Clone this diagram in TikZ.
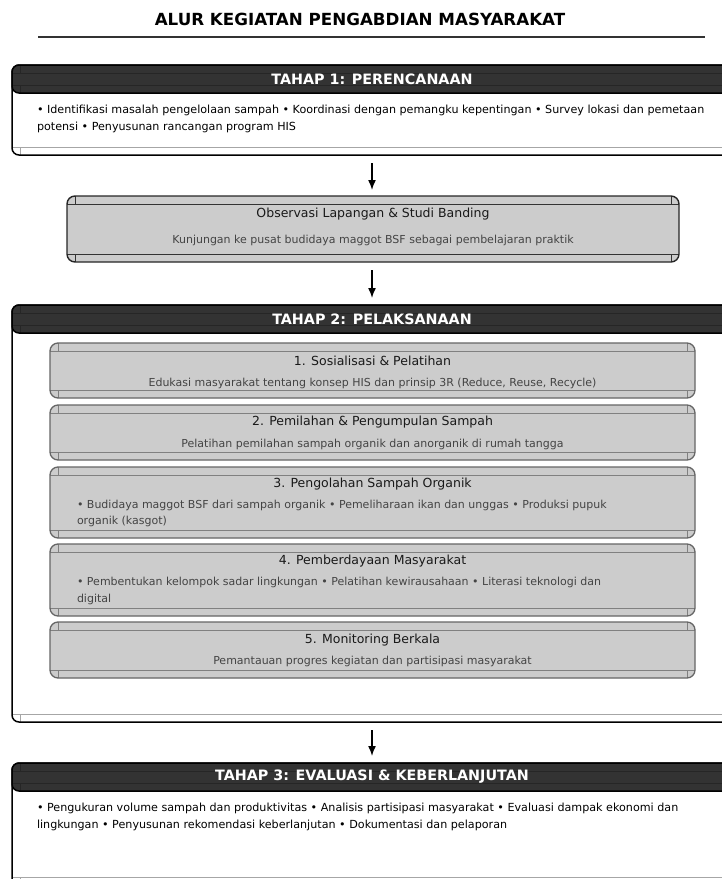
\documentclass[tikz,border=0pt]{standalone}
\usepackage{fontspec}
\setmainfont{DejaVu Sans}
\usetikzlibrary{calc,arrows.meta}
\definecolor{headdark}{HTML}{333333}
\definecolor{boxgray}{HTML}{CCCCCC}
\definecolor{textgray}{HTML}{444444}

\begin{document}
\begin{tikzpicture}[x=1pt,y=-1pt,>={Latex[length=10pt,width=8pt]}]
    \tikzset{seams/.style={path picture={
        \draw[#1] ($(path picture bounding box.north west)+(0,8)$) -- ($(path picture bounding box.north east)+(0,8)$);
        \draw[#1] ($(path picture bounding box.south west)+(0,-8)$) -- ($(path picture bounding box.south east)+(0,-8)$);
        \draw[#1] ($(path picture bounding box.north west)+(8,0)$) -- +(0,8);
        \draw[#1] ($(path picture bounding box.north east)+(-8,0)$) -- +(0,8);
        \draw[#1] ($(path picture bounding box.south west)+(8,0)$) -- +(0,-8);
        \draw[#1] ($(path picture bounding box.south east)+(-8,0)$) -- +(0,-8);
    }}}
    \tikzstyle{every node}=[inner sep=0pt,outer sep=0pt];
    \tikzstyle{stagebody}=[draw=black,line width=1.5pt,fill=white,rounded corners=7pt,minimum width=720pt,seams={gray!70,line width=1pt}];
    \tikzstyle{stagehead}=[draw=black,line width=1.5pt,fill=headdark,rounded corners=7pt,minimum width=720pt,minimum height=28pt,
        text=white,font=\fontsize{14.3}{16}\selectfont\bfseries,seams={black!85,line width=1pt}];
    \tikzstyle{stagetext}=[anchor=west,align=left,font=\fontsize{11.15}{17}\selectfont];
    \tikzstyle{obsbox}=[draw=black!85,line width=1.4pt,fill=boxgray,rounded corners=8pt,seams={black!80,line width=1pt}];
    \tikzstyle{stepbox}=[draw=black!60,line width=1.3pt,fill=boxgray,rounded corners=8pt,minimum width=645pt,seams={black!50,line width=1pt}];
    \tikzstyle{steptitle}=[font=\fontsize{12.5}{15}\selectfont,text=black!90];
    \tikzstyle{stepdesc}=[font=\fontsize{11}{16.5}\selectfont,text=textgray,align=left];
    \tikzstyle{flow}=[->,line width=1.5pt];
    \useasboundingbox (0,0) rectangle (722,879);
    \clip (0,0) rectangle (722,879);

    % judul
    \node at (360, 19) (title) [font=\fontsize{16.7}{19}\selectfont\bfseries] {ALUR KEGIATAN PENGABDIAN MASYARAKAT};
    \coordinate (ruleL) at (38, 37);
    \coordinate (ruleR) at (705, 37);
    \draw[headdark,line width=2pt] (ruleL) -- (ruleR);

    % tahap 1
    \node at (372, 110) (t1) [stagebody,minimum height=90pt] {};
    \node at (372, 79) (t1h) [stagehead] {TAHAP 1: PERENCANAAN};
    \node at (37, 118.5) (t1d) [stagetext] {• Identifikasi masalah pengelolaan sampah • Koordinasi dengan pemangku kepentingan • Survey lokasi dan pemetaan\\potensi • Penyusunan rancangan program HIS};

    % observasi
    \node at (373, 229) (obs) [obsbox,minimum width=612pt,minimum height=66pt] {};
    \node at (373, 214) (obst) [steptitle] {Observasi Lapangan \& Studi Banding};
    \node at (373, 240) (obsd) [stepdesc] {Kunjungan ke pusat budidaya maggot BSF sebagai pembelajaran praktik};

    % tahap 2
    \node at (372, 513.5) (t2) [stagebody,minimum height=417pt] {};
    \node at (372, 319) (t2h) [stagehead] {TAHAP 2: PELAKSANAAN};

    \node at (372.5, 370.5) (s1) [stepbox,minimum height=55pt] {};
    \node at (372.5, 361) (s1t) [steptitle] {1. Sosialisasi \& Pelatihan};
    \node at (372.5, 383) (s1d) [stepdesc] {Edukasi masyarakat tentang konsep HIS dan prinsip 3R (Reduce, Reuse, Recycle)};

    \node at (372.5, 432.5) (s2) [stepbox,minimum height=55pt] {};
    \node at (372.5, 422) (s2t) [steptitle] {2. Pemilahan \& Pengumpulan Sampah};
    \node at (372.5, 444) (s2d) [stepdesc] {Pelatihan pemilahan sampah organik dan anorganik di rumah tangga};

    \node at (372.5, 502.5) (s3) [stepbox,minimum height=71pt] {};
    \node at (372.5, 484) (s3t) [steptitle] {3. Pengolahan Sampah Organik};
    \node at (77, 513.5) (s3d) [stepdesc,anchor=west] {• Budidaya maggot BSF dari sampah organik • Pemeliharaan ikan dan unggas • Produksi pupuk\\organik (kasgot)};

    \node at (372.5, 580) (s4) [stepbox,minimum height=72pt] {};
    \node at (372.5, 561) (s4t) [steptitle] {4. Pemberdayaan Masyarakat};
    \node at (77, 591) (s4d) [stepdesc,anchor=west] {• Pembentukan kelompok sadar lingkungan • Pelatihan kewirausahaan • Literasi teknologi dan\\digital};

    \node at (372.5, 650) (s5) [stepbox,minimum height=56pt] {};
    \node at (372.5, 640) (s5t) [steptitle] {5. Monitoring Berkala};
    \node at (372.5, 661) (s5d) [stepdesc] {Pemantauan progres kegiatan dan partisipasi masyarakat};

    % tahap 3
    \node at (372, 824) (t3) [stagebody,minimum height=122pt] {};
    \node at (372, 777) (t3h) [stagehead] {TAHAP 3: EVALUASI \& KEBERLANJUTAN};
    \node at (37, 816.5) (t3d) [stagetext] {• Pengukuran volume sampah dan produktivitas • Analisis partisipasi masyarakat • Evaluasi dampak ekonomi dan\\lingkungan • Penyusunan rekomendasi keberlanjutan • Dokumentasi dan pelaporan};

    \draw[flow,shorten <=8pt,shorten >=6pt] (t1.south) to (t1.south |- obs.north);
    \draw[flow,shorten <=8pt,shorten >=7pt] (t1.south |- obs.south) to (t2h.north);
    \draw[flow,shorten <=8pt,shorten >=7pt] (t2.south) to (t3h.north);
\end{tikzpicture}
\end{document}
